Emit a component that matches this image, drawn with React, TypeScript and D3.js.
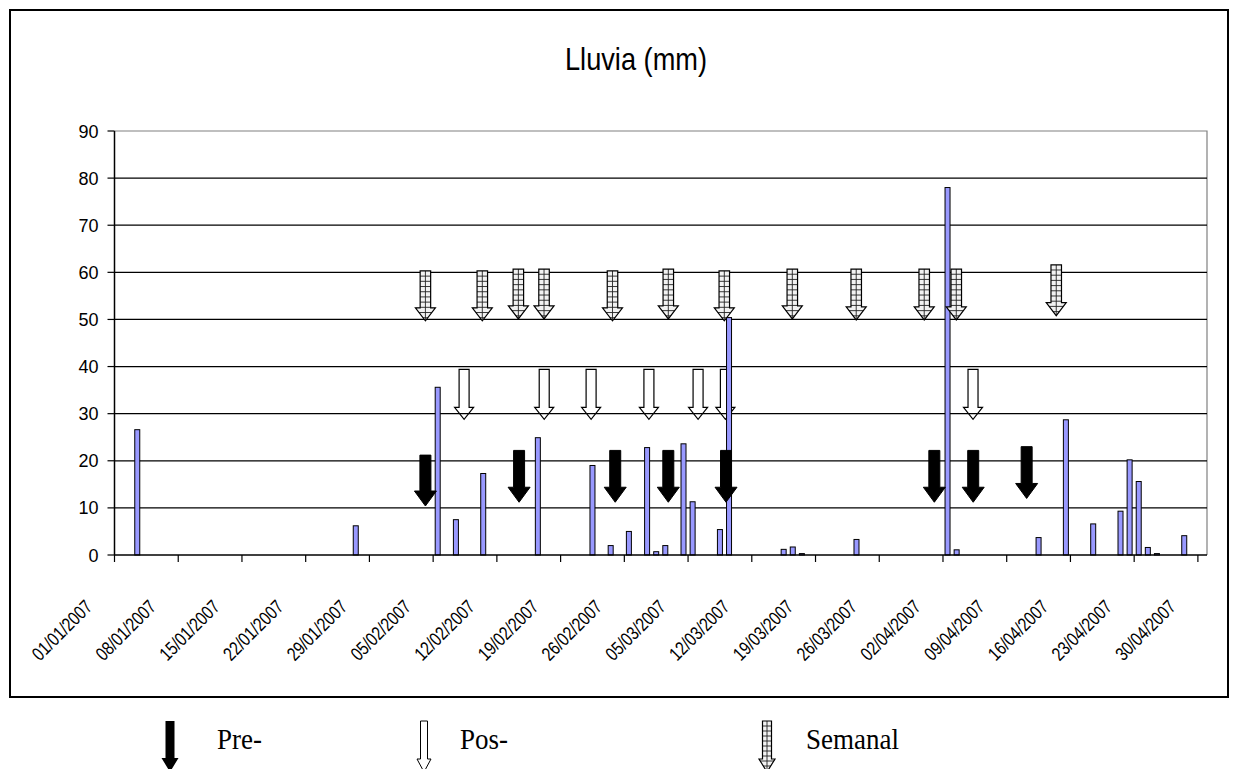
import React from "react";
import * as d3 from "d3";

// ---------- data ----------
const title = "Lluvia (mm)";
const yTicks = [0, 10, 20, 30, 40, 50, 60, 70, 80, 90];
const tickLabels = [
  "01/01/2007", "08/01/2007", "15/01/2007", "22/01/2007", "29/01/2007", "05/02/2007",
  "12/02/2007", "19/02/2007", "26/02/2007", "05/03/2007", "12/03/2007", "19/03/2007",
  "26/03/2007", "02/04/2007", "09/04/2007", "16/04/2007", "23/04/2007", "30/04/2007",
];
const rainDates = [
  "2007-01-03", "2007-01-27", "2007-02-05", "2007-02-07", "2007-02-10", "2007-02-16",
  "2007-02-22", "2007-02-24", "2007-02-26", "2007-02-28", "2007-03-01", "2007-03-02",
  "2007-03-04", "2007-03-05", "2007-03-08", "2007-03-09", "2007-03-15", "2007-03-16",
  "2007-03-17", "2007-03-23", "2007-04-02", "2007-04-03", "2007-04-12", "2007-04-15",
  "2007-04-18", "2007-04-21", "2007-04-22", "2007-04-23", "2007-04-24", "2007-04-25",
  "2007-04-28",
];
const rainValues = [
  26.6, 6.2, 35.6, 7.5, 17.3, 24.9,
  19.0, 2.0, 5.0, 22.8, 0.7, 2.0,
  23.6, 11.3, 5.4, 50.4, 1.2, 1.7,
  0.3, 3.3, 78.0, 1.1, 3.7, 28.7,
  6.6, 9.3, 20.2, 15.6, 1.6, 0.3,
  4.1,
];
// annotation arrows: position in days since 01/01/2007, top and tip values (mm)
const preDays = [34.15, 44.44, 55.0, 60.83, 67.17, 90.05, 94.32, 100.19];
const preTop = [21.2, 22.2, 22.2, 22.2, 22.2, 22.2, 22.2, 23.0];
const preTip = [10.4, 11.2, 11.2, 11.2, 11.2, 11.2, 11.2, 12.0];
const posDays = [38.4, 47.2, 52.35, 58.7, 64.1, 67.1, 94.3];
const posTop = [39.4, 39.4, 39.4, 39.4, 39.4, 39.4, 39.4];
const posTip = [28.8, 28.8, 28.8, 28.8, 28.8, 28.8, 28.8];
const semDays = [34.15, 40.4, 44.36, 47.18, 54.7, 60.83, 66.98, 74.45, 81.47, 88.94, 92.46, 103.44];
const semTop = [60.3, 60.3, 60.7, 60.7, 60.3, 60.7, 60.3, 60.7, 60.7, 60.7, 60.7, 61.6];
const semTip = [49.7, 49.7, 50.1, 50.1, 49.7, 50.1, 49.7, 50.1, 49.9, 49.9, 49.9, 50.8];
const legendLabels = ["Pre-", "Pos-", "Semanal"];

// ---------- helpers ----------
function arrowPath(cx: number, yTop: number, yTip: number, sw: number, hw: number, hh: number) {
  return `M${cx - sw / 2},${yTop}H${cx + sw / 2}V${yTip - hh}H${cx + hw / 2}L${cx},${yTip}L${cx - hw / 2},${yTip - hh}H${cx - sw / 2}Z`;
}

function SemArrow({ id, cx, yTop, yTip, sw, hw, hh, step }: any) {
  const d = arrowPath(cx, yTop, yTip, sw, hw, hh);
  const hLines = d3.range(yTop + step, yTip, step);
  return (
    <g>
      <clipPath id={id}>
        <path d={d} />
      </clipPath>
      <path d={d} fill="#f2f2f2" />
      <g clipPath={`url(#${id})`} stroke="#222" strokeWidth={0.9}>
        <line x1={cx} x2={cx} y1={yTop} y2={yTip} />
        {hLines.map((y: number, i: number) => (
          <line key={i} x1={cx - hw / 2} x2={cx + hw / 2} y1={y} y2={y} />
        ))}
      </g>
      <path d={d} fill="none" stroke="#000" strokeWidth={1.2} />
    </g>
  );
}

export default function App() {
  const W = 1233, H = 769;
  const plotL = 114.5, plotR = 1207, plotT = 131, plotB = 555;
  const start = new Date(2007, 0, 1);
  const x = d3.scaleLinear().domain([0, 120]).range([plotL, plotR]);
  const y = d3.scaleLinear().domain([0, 90]).range([plotB, plotT]);
  const dayOf = (s: string) => {
    const [yy, mm, dd] = s.split("-").map(Number);
    return d3.timeDay.count(start, new Date(yy, mm - 1, dd));
  };
  const sans = "Arial, 'Liberation Sans', sans-serif";
  const serif = "'Times New Roman', 'Liberation Serif', serif";
  const barW = 5;

  return (
    <svg width={W} height={H} style={{ position: "absolute", left: 0, top: 0, display: "block" }}>
      <rect x={0} y={0} width={W} height={H} fill="#fff" />
      {/* chart frame */}
      <rect x={10} y={10} width={1218} height={687} fill="#fff" stroke="#000" strokeWidth={2} />
      <text transform="translate(636,70) scale(0.85,1)" textAnchor="middle" fontFamily={sans} fontSize={32}>
        {title}
      </text>

      {/* plot border (gray) */}
      <path d={`M${plotL},${plotT}H${plotR}V${plotB}`} fill="none" stroke="#808080" strokeWidth={1.2} />
      {/* gridlines */}
      {yTicks.filter((t) => t > 0 && t < 90).map((t) => (
        <line key={t} x1={plotL} x2={plotR} y1={y(t)} y2={y(t)} stroke="#000" strokeWidth={1.2} />
      ))}

      {/* y axis */}
      <line x1={plotL} x2={plotL} y1={plotT} y2={plotB} stroke="#000" strokeWidth={1.5} />
      {yTicks.map((t) => (
        <g key={t}>
          <line x1={plotL - 7} x2={plotL} y1={y(t)} y2={y(t)} stroke="#000" strokeWidth={1.2} />
          <text x={plotL - 16} y={y(t) + 6.5} textAnchor="end" fontFamily={sans} fontSize={18}>
            {t}
          </text>
        </g>
      ))}

      {/* Pos- arrows (outline only) */}
      {posDays.map((d, i) => (
        <path key={"pos" + i} d={arrowPath(x(d), y(posTop[i]), y(posTip[i]), 10, 19, 12)} fill="none" stroke="#000" strokeWidth={1.2} />
      ))}

      {/* bars */}
      {rainDates.map((s, i) => {
        const cx = x(dayOf(s) + 0.5);
        return (
          <rect key={s} x={cx - barW / 2} y={y(rainValues[i])} width={barW} height={plotB - y(rainValues[i])} fill="#9999FF" stroke="#000" strokeWidth={1} />
        );
      })}

      {/* x axis */}
      <line x1={plotL} x2={plotR} y1={plotB} y2={plotB} stroke="#000" strokeWidth={1.5} />
      {tickLabels.map((lab, i) => {
        const tx = x(i * 7);
        return (
          <g key={lab}>
            <line x1={tx} x2={tx} y1={plotB} y2={plotB + 7} stroke="#000" strokeWidth={1.2} />
            <text transform={`translate(${tx - 21},${plotB + 53}) rotate(-45) scale(0.8,1)`} textAnchor="end" fontFamily={sans} fontSize={19}>
              {lab}
            </text>
          </g>
        );
      })}

      {/* Semanal arrows */}
      {semDays.map((d, i) => (
        <SemArrow key={"sem" + i} id={"semclip" + i} cx={x(d)} yTop={y(semTop[i])} yTip={y(semTip[i])} sw={10.5} hw={20} hh={13} step={5.2} />
      ))}

      {/* Pre- arrows */}
      {preDays.map((d, i) => (
        <path key={"pre" + i} d={arrowPath(x(d), y(preTop[i]), y(preTip[i]), 11, 22, 15)} fill="#000" stroke="#000" strokeWidth={1} />
      ))}

      {/* legend */}
      <path d={arrowPath(170, 721, 772, 9, 17, 14)} fill="#000" />
      <text transform="translate(217,749) scale(0.9,1)" fontFamily={serif} fontSize={30}>{legendLabels[0]}</text>
      <path d={arrowPath(424, 721, 772, 7, 14, 13)} fill="#fff" stroke="#000" strokeWidth={1} />
      <text transform="translate(460,749) scale(0.9,1)" fontFamily={serif} fontSize={30}>{legendLabels[1]}</text>
      <SemArrow id="semlegend" cx={767} yTop={721} yTip={772} sw={9} hw={16} hh={13} step={5} />
      <text transform="translate(806,749) scale(0.9,1)" fontFamily={serif} fontSize={30}>{legendLabels[2]}</text>
    </svg>
  );
}
